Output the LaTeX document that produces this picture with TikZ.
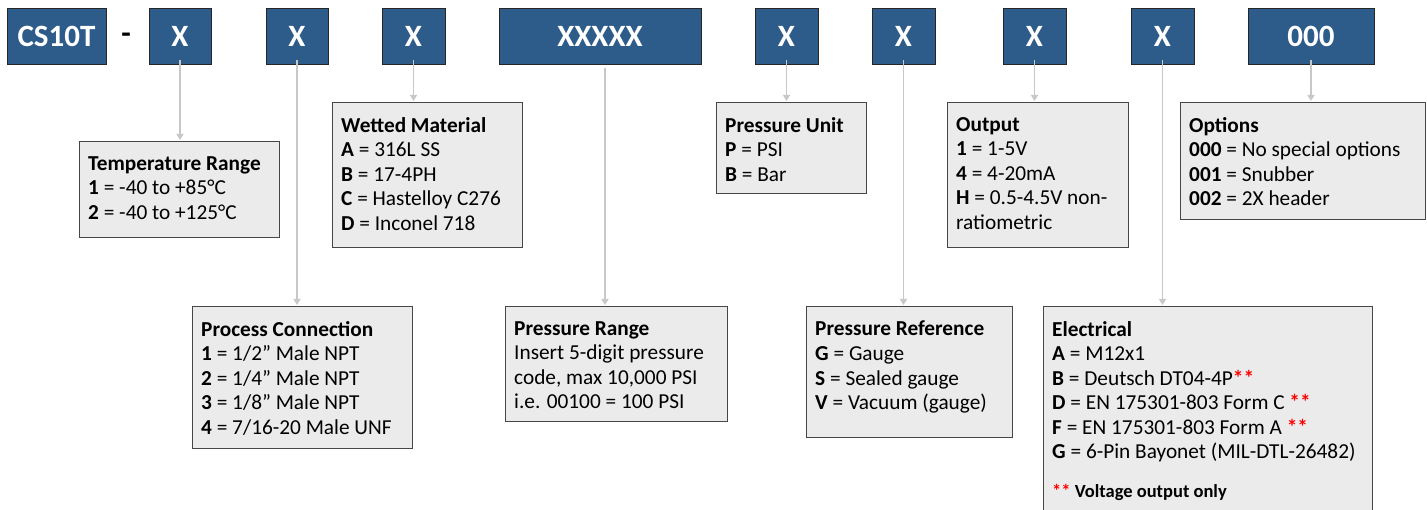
\documentclass[tikz,border=0pt]{standalone}
\usepackage{fontspec}
\setmainfont{Carlito}
\usetikzlibrary{arrows.meta}

\definecolor{codeblue}{RGB}{46,92,138}
\definecolor{boxgray}{RGB}{235,235,235}
\definecolor{framegray}{RGB}{70,70,70}
\definecolor{linegray}{RGB}{200,200,200}

\tikzset{
  codebox/.style={draw=black!85, line width=0.8pt, fill=codeblue, text=white,
    font=\fontsize{31}{34}\selectfont\bfseries, inner sep=0pt, minimum height=56},
  optbox/.style={draw=framegray, line width=1.1pt, fill=boxgray, anchor=north west, inner sep=0pt},
  opttext/.style={anchor=north west, align=left, inner sep=0pt, font=\fontsize{21.3}{24.5}\selectfont},
  feed/.style={draw=linegray, line width=1.6pt, -{Triangle[width=7pt,length=6pt]}, shorten >=1pt},
}
\newcommand{\rs}{\textcolor{red}{\textbf{**}}}

\begin{document}
\begin{tikzpicture}[x=1pt,y=-1pt]
\useasboundingbox (0,0) rectangle (1427,510);
\clip (0,0) rectangle (1427,510);

% code boxes
\foreach \name/\x/\w/\txt in {cs/56.5/99/CS10T, xa/180/62/X, xb/297/62/X, xc/413.5/63/X,
  xd/600/202/XXXXX, xe/786.5/63/X, xf/903.5/63/X, xg/1034.5/63/X, xh/1162.5/63/X, xi/1311/126/000}
  \node[codebox, minimum width=\w] (\name) at (\x,36) {\txt};
\node[font=\fontsize{31}{34}\selectfont\bfseries, inner sep=0pt] (dash) at (126,38) {-};

% option boxes
\node[optbox, minimum width=200, minimum height=96] (temp) at (79,141) {};
\node[optbox, minimum width=190, minimum height=145] (wet) at (332,102) {};
\node[optbox, minimum width=220, minimum height=142] (proc) at (192,306) {};
\node[optbox, minimum width=222, minimum height=115] (prange) at (505,306) {};
\node[optbox, minimum width=150, minimum height=91] (punit) at (716,102) {};
\node[optbox, minimum width=206, minimum height=131] (pref) at (806,306) {};
\node[optbox, minimum width=181, minimum height=145] (out) at (947,102) {};
\node[optbox, minimum width=245, minimum height=117] (opt) at (1180,102) {};
\node[optbox, minimum width=329, minimum height=230] (elec) at (1043,306) {};

% option texts
\node[opttext] (temptxt) at ([shift={(9,15)}]temp.north west)
  {\textbf{Temperature Range}\\\textbf{1} = -40 to +85°C\\\textbf{2} = -40 to +125°C};
\node[opttext] (wettxt) at ([shift={(9,15)}]wet.north west)
  {\textbf{Wetted Material}\\\textbf{A} = 316L SS\\\textbf{B} = 17-4PH\\\textbf{C} = Hastelloy C276\\\textbf{D} = Inconel 718};
\node[opttext] (proctxt) at ([shift={(9,15)}]proc.north west)
  {\textbf{Process Connection}\\\textbf{1} = 1/2” Male NPT\\\textbf{2} = 1/4” Male NPT\\\textbf{3} = 1/8” Male NPT\\\textbf{4} = 7/16-20 Male UNF};
\node[opttext] (prangetxt) at ([shift={(9,15)}]prange.north west)
  {\textbf{Pressure Range}\\Insert 5-digit pressure\\code, max 10,000 PSI\\i.e. 00100 = 100 PSI};
\node[opttext] (punittxt) at ([shift={(9,15)}]punit.north west)
  {\textbf{Pressure Unit}\\\textbf{P} = PSI\\\textbf{B} = Bar};
\node[opttext] (preftxt) at ([shift={(9,15)}]pref.north west)
  {\textbf{Pressure Reference}\\\textbf{G} = Gauge\\\textbf{S} = Sealed gauge\\\textbf{V} = Vacuum (gauge)};
\node[opttext] (outtxt) at ([shift={(9,15)}]out.north west)
  {\textbf{Output}\\\textbf{1} = 1-5V\\\textbf{4} = 4-20mA\\\textbf{H} = 0.5-4.5V non-\\ratiometric};
\node[opttext] (opttxt) at ([shift={(9,15)}]opt.north west)
  {\textbf{Options}\\\textbf{000} = No special options\\\textbf{001} = Snubber\\\textbf{002} = 2X header};
\node[opttext] (electxt) at ([shift={(9,15)}]elec.north west)
  {\textbf{Electrical}\\\textbf{A} = M12x1\\\textbf{B} = Deutsch DT04-4P\rs\\\textbf{D} = EN 175301-803 Form C \rs\\
   \textbf{F} = EN 175301-803 Form A \rs\\\textbf{G} = 6-Pin Bayonet (MIL-DTL-26482)\\[14pt]
   {\fontsize{18.5}{20}\selectfont\rs\ \textbf{Voltage output only}}};

% feeders
\draw[feed] ([yshift=4]xa.south) -- (xa.south |- temp.north);
\draw[feed] ([yshift=4]xb.south) -- (xb.south |- proc.north);
\draw[feed] ([yshift=4]xc.south) -- (xc.south |- wet.north);
\draw[feed] ([shift={(5,4)}]xd.south) -- ([xshift=5]xd.south |- prange.north);
\draw[feed] ([yshift=4]xe.south) -- (xe.south |- punit.north);
\draw[feed] ([yshift=4]xf.south) -- (xf.south |- pref.north);
\draw[feed] ([yshift=4]xg.south) -- (xg.south |- out.north);
\draw[feed] ([yshift=4]xh.south) -- (xh.south |- elec.north);
\draw[feed] ([yshift=4]xi.south) -- (xi.south |- opt.north);

\end{tikzpicture}
\end{document}
